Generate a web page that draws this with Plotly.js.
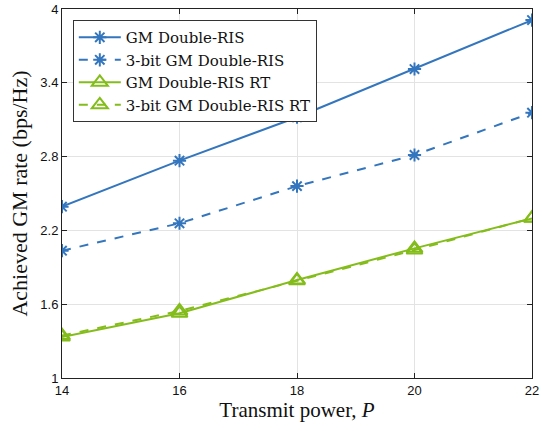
<!DOCTYPE html>
<html><head><meta charset="utf-8">
<script src="https://cdn.plot.ly/plotly-3.0.1.min.js"></script>
<style>body{margin:0;padding:0;background:#fff}#chart{width:542px;height:431px}</style>
</head><body><div id="chart"></div>
<script>
const power = [14, 16, 18, 20, 22];
const gmDouble = [2.393, 2.767, 3.12, 3.512, 3.91];
const gmDouble3bit = [2.035, 2.258, 2.56, 2.813, 3.157];
const gmDoubleRT = [1.333, 1.526, 1.797, 2.054, 2.298];
const gmDoubleRT3bit = [1.345, 1.545, 1.79, 2.04, 2.30];
const names = ['GM Double-RIS', '3-bit GM Double-RIS', 'GM Double-RIS RT', '3-bit GM Double-RIS RT'];
const yTicks = [1, 1.6, 2.2, 2.8, 3.4, 4];
const xTicks = [14, 16, 18, 20, 22];

const blue = '#3476BD', green = '#84BD1B';
const serif = 'Liberation Serif, Times New Roman, serif';
function tr(y, name, color, dash, symbol, size) {
  return {x: power, y: y, name: name, type: 'scatter', mode: 'lines+markers',
    line: {color: color, width: 2, dash: dash},
    marker: {symbol: symbol, size: size, color: color, line: {color: color, width: 2}}};
}
const data = [
  tr(gmDouble, names[0], blue, 'solid', 'asterisk-open', 11),
  tr(gmDouble3bit, names[1], blue, 'dash', 'asterisk-open', 11),
  tr(gmDoubleRT, names[2], green, 'solid', 'triangle-up-open', 14),
  tr(gmDoubleRT3bit, names[3], green, 'dash', 'triangle-up-open', 14)
];
const axisCommon = {showline: true, linecolor: '#222', linewidth: 1, mirror: 'ticks',
  ticks: 'inside', ticklen: 5, tickcolor: '#222', showgrid: true, gridcolor: '#e3e3e3',
  zeroline: false, tickfont: {family: 'Liberation Sans, Arial', size: 13, color: '#111'}};
const layout = {
  width: 542, height: 431,
  margin: {l: 62, r: 10, t: 9, b: 53},
  paper_bgcolor: '#fff', plot_bgcolor: '#fff',
  showlegend: true,
  legend: {x: 0.023, y: 0.97, xanchor: 'left', yanchor: 'top',
    bgcolor: '#fff', bordercolor: '#333', borderwidth: 1,
    font: {family: 'DejaVu Serif, serif', size: 15, color: '#111'},
    itemwidth: 42, tracegroupgap: 0},
  xaxis: Object.assign({}, axisCommon, {range: [14, 22], tickvals: xTicks,
    title: {text: 'Transmit power, <i>P</i>', standoff: 2,
      font: {family: serif, size: 21, color: '#111'}}}),
  yaxis: Object.assign({}, axisCommon, {range: [1, 4], tickvals: yTicks,
    ticktext: yTicks.map(String),
    title: {text: 'Achieved GM rate (bps/Hz)', standoff: 6,
      font: {family: serif, size: 22, color: '#111'}}})
};
Plotly.newPlot('chart', data, layout, {displayModeBar: false, staticPlot: true});
</script></body></html>
